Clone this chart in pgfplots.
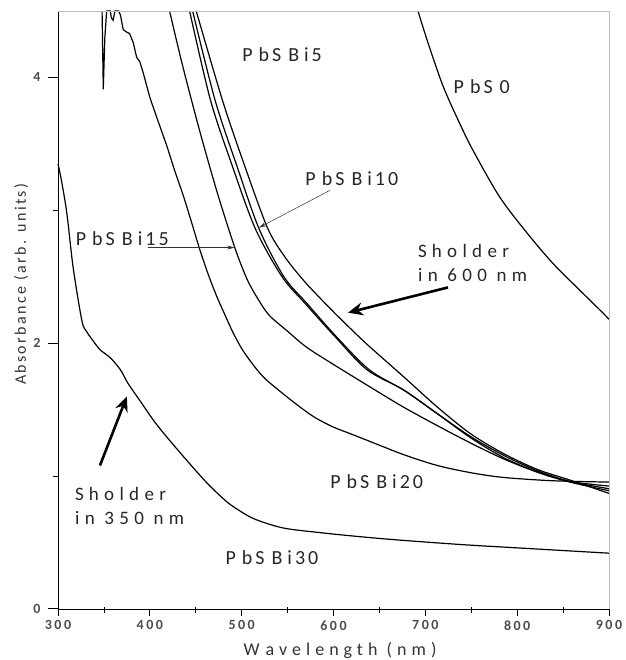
\documentclass[border=0pt]{standalone}
\usepackage{fontspec}
\setmainfont{Carlito}
\newfontfamily\lblfont[LetterSpace=15]{Carlito}
\newfontfamily\shfont[LetterSpace=28]{Carlito}
\newfontfamily\axfont[LetterSpace=28]{Carlito}
\newfontfamily\tickfont[LetterSpace=18]{Carlito}
\newfontfamily\ylfont[LetterSpace=15]{Carlito}
\usepackage{pgfplots}
\pgfplotsset{compat=1.18}
\usetikzlibrary{arrows.meta}
\newcommand{\lbl}{\fontsize{20}{22}\lblfont\color{black!85}}
\newcommand{\shl}{\fontsize{19}{24}\shfont\color{black!85}}
\newcommand{\pbs}[1]{P\kern6pt bS\kern7pt B\kern5pt i#1}
\begin{document}
\begin{tikzpicture}
\begin{axis}[name=ax, scale only axis, width=551pt, height=598pt,
  xmin=300, xmax=900, ymin=0, ymax=4.5,
  axis x line*=bottom, axis y line*=left, clip=false,
  xtick={300,400,...,900}, minor xtick={}, 
  ytick={0,2,4}, minor ytick={},
  tick align=outside, major tick length=0pt,
  axis line style={black, line width=1pt},
  /pgf/number format/assume math mode=true,
  ticklabel style={font=\fontsize{14}{14}\tickfont\bfseries, text=black!70},
  xticklabel style={yshift=-8pt},
  yticklabel style={xshift=-14pt},
]
\pgfplotsset{cv/.style={black, line width=1.2pt, mark=none}}
% PbS0
\addplot[cv, smooth] coordinates {(692,4.50) (702,4.28) (719,3.94) (737,3.66) (752,3.45) (781,3.10) (810.7,2.83) (839,2.60) (868,2.40) (893,2.23) (900,2.18)};
% rightmost of group
\addplot[cv, smooth] coordinates {(450.5,4.50) (479,3.83) (502,3.36) (528,2.87) (547,2.65) (569,2.46) (598,2.25) (623,2.08) (640,1.97) (676,1.75) (713,1.52) (749,1.32) (785,1.17) (822,1.05) (857.5,0.97) (900,0.87)};
% PbSBi10
\addplot[cv, smooth] coordinates {(446.6,4.50) (471,3.83) (495,3.33) (519,2.86) (546,2.50) (571,2.30) (603,2.05) (639,1.80) (678,1.64) (715,1.46) (751,1.29) (787,1.15) (822,1.04) (857.5,0.96) (900,0.905)};
% third
\addplot[cv, smooth] coordinates {(443.3,4.50) (466,3.83) (490,3.33) (515,2.86) (544,2.50) (569,2.30) (601.6,2.05) (636.5,1.80) (676,1.65) (713,1.47) (749,1.29) (785,1.14) (822,1.03) (857.5,0.955) (900,0.89)};
% PbSBi15
\addplot[cv, smooth] coordinates {(421.5,4.50) (436,4.08) (455,3.58) (474,3.12) (493,2.71) (506,2.48) (518,2.33) (530,2.21) (550,2.09) (565,2.00) (577,1.94) (600,1.84) (640,1.67) (676,1.52) (713,1.38) (749,1.25) (785,1.13) (822,1.03) (857,0.96) (900,0.925)};
% PbSBi20 (noisy part)
\addplot[cv] coordinates {(348,4.5) (349.3,3.91) (351,4.3) (353,4.5) (357,4.5) (358,4.45) (360,4.43) (362,4.5) (366,4.5) (368,4.47) (371,4.36) (375,4.34) (378,4.33) (382,4.26) (385.7,4.15) (389,4.12) (393,4.03) (400,3.85)};
% PbSBi20 (smooth part)
\addplot[cv, smooth] coordinates {(400,3.85) (407.5,3.70) (418.7,3.48) (427,3.30) (436,3.12) (445,2.92) (454.6,2.70) (464,2.51) (473,2.35) (482,2.21) (490.6,2.08) (500,1.96) (509,1.87) (518,1.79) (527.6,1.72) (545,1.62) (563.5,1.52) (580,1.44) (599.5,1.37) (618,1.32) (640,1.26) (677,1.16) (713,1.08) (750,1.025) (785,0.99) (839,0.965) (900,0.955)};
% PbSBi30
\addplot[cv, smooth] coordinates {(300,3.35) (303.6,3.23) (309.6,2.98) (316.5,2.57) (326,2.17) (331,2.09) (338,2.02) (346,1.95) (357,1.89) (368,1.80) (376,1.70) (389,1.57) (405,1.41) (419,1.29) (440,1.12) (462,0.95) (480,0.83) (491,0.77) (513,0.68) (545,0.61) (585,0.575) (620,0.55) (660,0.525) (708,0.50) (750,0.48) (800,0.46) (850,0.44) (900,0.42)};
% labels
\node[font=\lbl] at (axis cs:544,4.17) {\pbs{5}};
\node[font=\lbl, anchor=west] at (axis cs:727,3.93) {P\kern6pt bS\kern7pt 0};
\node[font=\lbl] at (axis cs:620,3.24) {\pbs{10}};
\node[font=\lbl] at (axis cs:370,2.79) {\pbs{15}};
\node[font=\lbl] at (axis cs:647,0.955) {\pbs{20}};
\node[font=\lbl] at (axis cs:533,0.384) {\pbs{30}};
\node[font=\shl, anchor=west, align=left, inner sep=0pt] at (axis cs:692,2.605) {S\kern5pt holder\\in 600 nm};
\node[font=\shl, anchor=west, align=left, inner sep=0pt] at (axis cs:318.5,0.775) {S\kern5pt holder\\in 350 nm};
% arrows
\draw[black!80, line width=0.5pt, -{Stealth[length=7pt,width=4pt]}] (axis cs:398,2.72) -- (axis cs:492,2.72);
\draw[black!80, line width=0.5pt, -{Stealth[length=7pt,width=4pt]}] (axis cs:596,3.15) -- (axis cs:519,2.87);
\draw[black, line width=2.6pt, -{Stealth[length=15pt,width=13pt]}] (axis cs:724.7,2.42) -- (axis cs:615.8,2.23);
\draw[black, line width=2.6pt, -{Stealth[length=15pt,width=13pt]}] (axis cs:345.7,1.08) -- (axis cs:375,1.60);
% axis titles
\node[font=\fontsize{18}{20}\axfont, text=black!80] at (rel axis cs:0.512,-0.0686) {W\kern6pt avelength (nm)};
\node[font=\fontsize{16}{18}\ylfont, text=black!80, rotate=90] at (rel axis cs:-0.067,0.543) {Abs\kern2pt orbance (arb. units)};
\end{axis}
\draw[black!25, line width=0.8pt] (ax.north west) -- (ax.north east) -- (ax.south east);
% tick marks
\foreach \i in {0,...,6} \draw[black, line width=1pt] ([xshift=\i*91.8333pt]ax.south west) -- ++(0,-7pt);
\foreach \i in {0,...,5} \draw[black, line width=0.8pt] ([xshift=45.9167pt+\i*91.8333pt]ax.south west) ++(0,2pt) -- ++(0,-6pt);
\foreach \j in {0,1,2} \draw[black, line width=1pt] ([yshift=\j*265.778pt]ax.south west) -- ++(-10pt,0);
\foreach \j in {0,1} \draw[black, line width=0.8pt] ([yshift=132.889pt+\j*265.778pt]ax.south west) -- ++(-5pt,0);
\pgfresetboundingbox
\path ([shift={(-58pt,-51pt)}]ax.south west) rectangle ([shift={(17pt,11pt)}]ax.north east);
\end{tikzpicture}
\end{document}
